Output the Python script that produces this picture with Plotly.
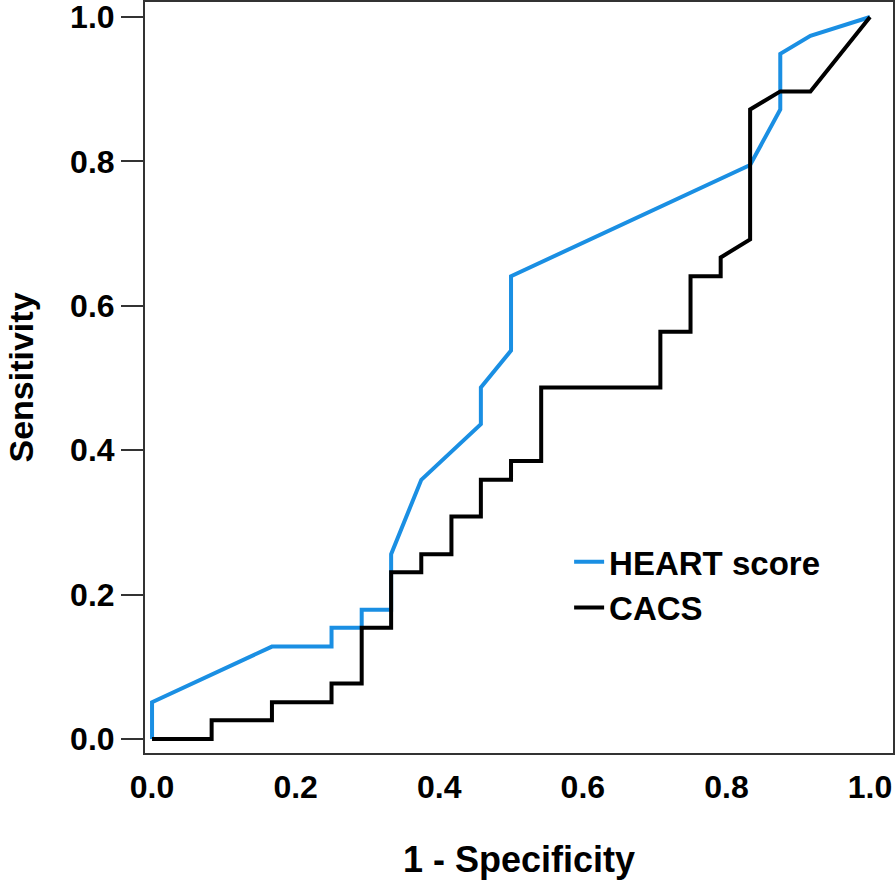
import plotly.graph_objects as go

# ROC curve data
heart_fpr = [0.0, 0.0, 0.167, 0.25, 0.25, 0.292, 0.292, 0.333, 0.333, 0.375,
             0.458, 0.458, 0.5, 0.5, 0.833, 0.875, 0.875, 0.917, 1.0]
heart_tpr = [0.0, 0.051, 0.128, 0.128, 0.154, 0.154, 0.179, 0.179, 0.256, 0.359,
             0.436, 0.487, 0.538, 0.641, 0.795, 0.872, 0.949, 0.974, 1.0]

cacs_fpr = [0.0, 0.083, 0.083, 0.167, 0.167, 0.25, 0.25, 0.292, 0.292, 0.333,
            0.333, 0.375, 0.375, 0.417, 0.417, 0.458, 0.458, 0.5, 0.5, 0.542,
            0.542, 0.708, 0.708, 0.75, 0.75, 0.792, 0.792, 0.833, 0.833, 0.875,
            0.917, 1.0]
cacs_tpr = [0.0, 0.0, 0.026, 0.026, 0.051, 0.051, 0.077, 0.077, 0.154, 0.154,
            0.231, 0.231, 0.256, 0.256, 0.308, 0.308, 0.359, 0.359, 0.385, 0.385,
            0.487, 0.487, 0.564, 0.564, 0.641, 0.641, 0.667, 0.692, 0.872, 0.897,
            0.897, 1.0]

tick_vals = [0.0, 0.2, 0.4, 0.6, 0.8, 1.0]
tick_text = ["0.0", "0.2", "0.4", "0.6", "0.8", "1.0"]

FONT = "Liberation Sans, Arial, sans-serif"

fig = go.Figure()
fig.add_trace(go.Scatter(x=heart_fpr, y=heart_tpr, mode="lines", name="HEART score",
                         line=dict(color="#1a8fe3", width=4)))
fig.add_trace(go.Scatter(x=cacs_fpr, y=cacs_tpr, mode="lines", name="CACS",
                         line=dict(color="#000000", width=4)))

fig.update_layout(
    width=896, height=880,
    margin=dict(l=145, r=3, t=2, b=127),
    paper_bgcolor="white", plot_bgcolor="white",
    font=dict(family=FONT, color="black", size=32, weight="bold"),
    showlegend=True,
    legend=dict(x=0.567, y=0.292, xanchor="left", yanchor="top",
                bgcolor="rgba(0,0,0,0)", font=dict(size=33, family=FONT, weight="bold"),
                tracegroupgap=0),
    xaxis=dict(range=[-0.0098, 1.032], tickvals=tick_vals, ticktext=tick_text,
               showgrid=False, zeroline=False, showline=True, mirror=True,
               linecolor="#333333", linewidth=2, automargin=False,
               ticklabeloverflow="allow",
               ticks="outside", ticklen=5, tickcolor="rgba(0,0,0,0)",
               tickfont=dict(size=32, family=FONT, weight="bold"),
               title=dict(text="1 - Specificity", standoff=46,
                          font=dict(size=36, family=FONT, weight="bold"))),
    yaxis=dict(range=[-0.0194, 1.0208], tickvals=tick_vals, ticktext=tick_text,
               showgrid=False, zeroline=False, showline=True, mirror=True,
               linecolor="#333333", linewidth=2, automargin=False,
               ticklabeloverflow="allow",
               ticks="outside", ticklen=22, tickwidth=2, tickcolor="#333333",
               tickfont=dict(size=32, family=FONT, weight="bold"),
               title=dict(text="Sensitivity", standoff=26,
                          font=dict(size=34, family=FONT, weight="bold"))),
)

fig.write_html("out.html", config={"displayModeBar": False},
               post_script="document.body.style.margin='0';document.body.style.overflow='hidden';")
